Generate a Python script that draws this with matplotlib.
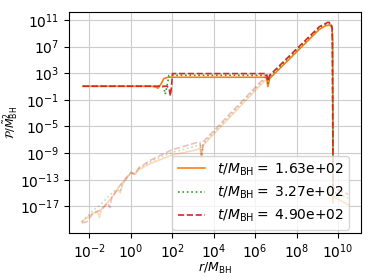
import numpy as np
import matplotlib
matplotlib.use("Agg")
import matplotlib.pyplot as plt

# valores, em log10 (r/M_BH, P/M^2)
rotulos = ["1.63e+02", "3.27e+02", "4.90e+02"]
cores = ["tab:orange", "tab:green", "tab:red"]
estilos = ["-", ":", "--"]

# parte positiva (linha cheia)
logr_pos = [
    [-2.3, 1.0, 1.2, 1.32, 1.45, 1.6, 1.8, 6.55, 6.62, 6.7, 9.1, 9.4, 9.6, 9.7, 9.74, 9.76, 9.78, 10.5],
    [-2.3, 1.5, 1.6, 1.67, 1.75, 1.85, 6.55, 6.62, 6.7, 9.1, 9.5, 9.65, 9.72, 9.76, 10.5],
    [-2.3, 1.75, 1.85, 1.92, 1.97, 2.02, 6.55, 6.62, 6.7, 9.1, 9.5, 9.65, 9.72, 9.76, 10.5],
]
logp_pos = [
    [1.05, 1.05, 0.95, 0.75, 1.3, 2.2, 2.4, 2.4, 1.0, 2.2, 9.6, 10.15, 10.25, 10.0, 8.0, -16.5, -15.5, -16.8],
    [1.05, 1.05, 0.9, -0.15, 1.0, 2.7, 2.7, 1.5, 2.5, 9.9, 10.5, 10.45, 9.5, -14.8, -15.8],
    [1.05, 1.05, 0.8, -0.4, 1.0, 2.95, 2.95, 1.8, 2.7, 10.0, 10.65, 10.6, 9.7, -14.2, -15.2],
]

# parte negativa (|P|, linha clara)
logr_neg = [
    [-2.35, -1.9, -1.6, -1.5, -1.4, -1.0, -0.6, -0.5, -0.4, 0.0, 0.2, 0.4, 1.0, 2.0, 3.2, 3.35, 3.42, 3.5, 6.6],
    [-2.35, -1.8, -1.4, -1.0, -0.6, -0.5, -0.4, 0.0, 0.2, 0.4, 1.0, 2.0, 3.2, 3.35, 3.42, 3.5, 6.6],
    [-2.35, -2.1, -1.8, -1.4, -1.1, -1.0, -0.9, -0.5, 0.0, 0.2, 0.4, 1.0, 2.0, 3.2, 3.35, 3.42, 3.5, 6.6],
]
logp_neg = [
    [-19.3, -18.2, -17.8, -18.7, -17.4, -16.0, -14.5, -15.0, -13.8, -12.0, -12.2, -11.5, -10.5, -9.3, -8.5, -8.2, -10.0, -7.8, 2.3],
    [-19.3, -17.6, -16.6, -15.3, -14.2, -14.6, -13.5, -12.0, -12.1, -11.3, -10.2, -8.9, -7.9, -7.8, -9.5, -7.6, 2.6],
    [-19.5, -19.3, -18.0, -17.5, -16.5, -17.2, -15.6, -13.8, -11.9, -12.1, -11.2, -10.0, -8.5, -7.4, -7.4, -9.3, -7.3, 2.8],
]

fig = plt.figure(figsize=(3.74, 2.8), dpi=100)
ax = fig.add_axes([0.185, 0.168, 0.78, 0.789])

for i in range(3):
    ax.plot(10**np.array(logr_neg[i]), 10**np.array(logp_neg[i]), color=cores[i],
            linestyle=estilos[i], lw=1.2, alpha=0.3)
    ax.plot(10**np.array(logr_pos[i]), 10**np.array(logp_pos[i]), color=cores[i],
            linestyle=estilos[i], lw=1.2, label=r"$t/M_{\rm BH} = $ " + rotulos[i])

ax.set_xscale("log")
ax.set_yscale("log")
ax.set_xlim(10**-2.96, 10**11.1)
ax.set_ylim(1e-21, 10**12.2)
ax.set_xticks([10.0**k for k in range(-2, 11, 2)])
ax.set_yticks([10.0**k for k in range(-17, 12, 4)])
ax.minorticks_off()
ax.grid(True, color="#cccccc", lw=0.8)
ax.set_xlabel(r"$r/M_{\rm BH}$", fontsize=9, labelpad=0)
ax.set_ylabel(r"$\mathcal{P}/\tilde{M}^2_{\rm BH}$", fontsize=8, labelpad=0)
ax.legend(loc="lower left", bbox_to_anchor=(0.329, -0.018), fontsize=10)

fig.savefig("out.png", dpi=100)
